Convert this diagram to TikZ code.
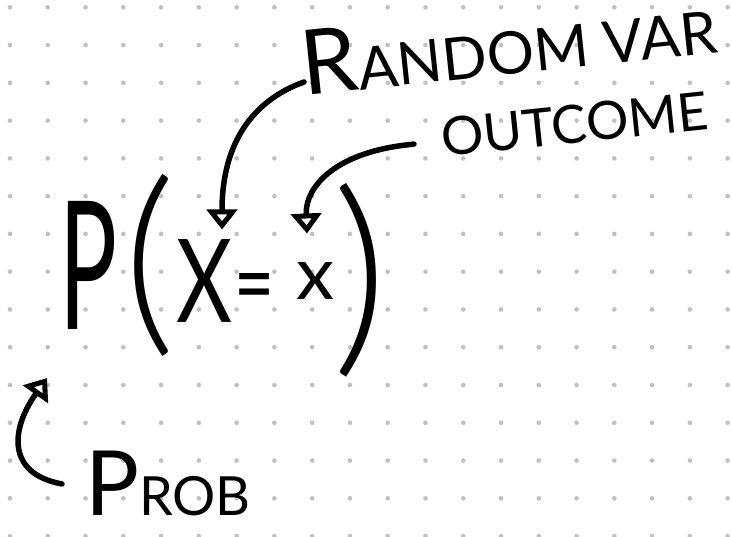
\documentclass[tikz,border=0pt]{standalone}
\usepackage{fontspec}
\usepackage{graphicx}
\newfontfamily\hand{Lato}
\newfontfamily\handlight{Lato Light}
\usetikzlibrary{arrows.meta}
\definecolor{dotgray}{RGB}{192,192,192}
\begin{document}
\begin{tikzpicture}[x=1pt,y=-1pt,
  glyph/.style={inner sep=0pt, outer sep=0pt, anchor=center},
  lbl/.style={inner sep=0pt, outer sep=0pt, anchor=base west, rotate=6},
  lblflat/.style={inner sep=0pt, outer sep=0pt, anchor=base west},
  arr/.style={line width=5.5pt, line cap=round,
    -{Triangle[open, length=20pt, width=30pt, line width=5pt]}}]
\useasboundingbox (0,0) rectangle (732,537);
\fill[white] (0,0) rectangle (732,537);
\foreach \i in {0,...,19}{
  \foreach \j in {0,...,14}{
    \fill[dotgray] (10+37.77*\i, 7.3+37.77*\j) circle (2.3pt);
  }
}
% formula
\node[glyph] (P) at (89,265) {\resizebox{58pt}{128pt}{\hand P}};
\node[glyph] (lp) at (150,265) {\resizebox{!}{155pt}{\handlight (}};
\node[glyph] (X) at (205,281) {\resizebox{56pt}{83pt}{\hand X}};
\node[glyph] (eq) at (255,294) {\resizebox{40pt}{42pt}{\hand =}};
\node[glyph] (x) at (316,281) {\resizebox{38pt}{37pt}{\hand x}};
\node[glyph] (rp) at (360,280) {\resizebox{!}{165pt}{\handlight )}};
% labels
\node[lbl] (rv) at (304,96) {\hand\fontsize{90}{90}\selectfont R\fontsize{59}{59}\selectfont ANDOM VAR};
\node[lbl] (oc) at (443,157) {\hand\fontsize{53}{53}\selectfont OUTCOME};
\node[lblflat] (pr) at (85,516) {\hand\fontsize{90}{90}\selectfont P\fontsize{54}{54}\selectfont ROB};
% arrows
\draw[arr] ([shift={(0,-14)}]rv.base west) .. controls +(-50,18) and +(0,-88) .. ([shift={(17,-10)}]X.north);
\draw[arr] ([shift={(-27,6)}]oc.west) .. controls +(-78,7) and +(-2,-47) .. ([shift={(-9,-29)}]x.north);
\draw[arr] ([xshift=-23pt]pr.west) .. controls +(-55,-10) and +(-37,52) .. ([shift={(-42,49)}]P.south);
\end{tikzpicture}
\end{document}
